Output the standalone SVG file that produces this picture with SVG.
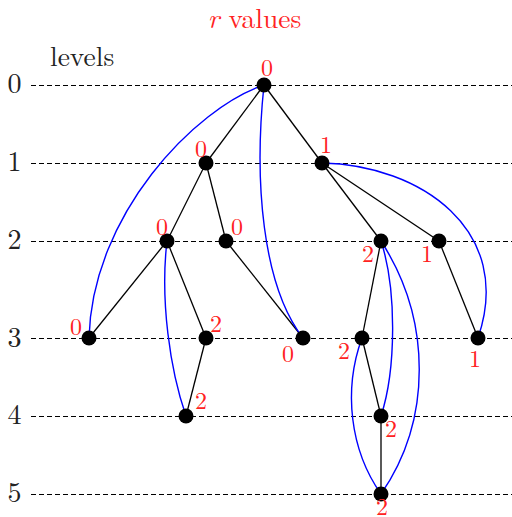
<svg xmlns="http://www.w3.org/2000/svg" width="512" height="517" viewBox="0 0 512 517">
<style>
.lvl{stroke:#000;stroke-width:1;stroke-dasharray:4.5,3.5;shape-rendering:crispEdges}
.tx{font-family:"Latin Modern Roman","Liberation Serif",serif;}
.lt{font-size:28px;fill:#222;text-anchor:middle}
.r{font-size:24px;fill:#f22;text-anchor:middle}
.e{stroke:#000;stroke-width:1.3;fill:none}
.b{stroke:#00f;stroke-width:1.4;fill:none}
.n{fill:#000}
</style>
<rect width="512" height="517" fill="#fff"/>
<g id="levels">
<line class="lvl" x1="31" y1="85.5" x2="512" y2="85.5"/>
<line class="lvl" x1="31" y1="163.5" x2="512" y2="163.5"/>
<line class="lvl" x1="31" y1="241.5" x2="512" y2="241.5"/>
<line class="lvl" x1="31" y1="338.5" x2="512" y2="338.5"/>
<line class="lvl" x1="31" y1="416.5" x2="512" y2="416.5"/>
<line class="lvl" x1="31" y1="494.5" x2="512" y2="494.5"/>
<text class="tx lt" x="14.5" y="93">0</text>
<text class="tx lt" x="14.5" y="171">1</text>
<text class="tx lt" x="14.5" y="249">2</text>
<text class="tx lt" x="14.5" y="347">3</text>
<text class="tx lt" x="14.5" y="424">4</text>
<text class="tx lt" x="14.5" y="502">5</text>
<text class="tx" x="50" y="66" font-size="27.5" fill="#222">levels</text>
<text class="tx" x="254.5" y="28" font-size="27.5" fill="#f22" text-anchor="middle"><tspan font-style="italic">r</tspan> values</text>
</g>
<g id="connectors">
<line class="e" x1="264" y1="85" x2="206" y2="163"/>
<line class="e" x1="264" y1="85" x2="322" y2="163"/>
<line class="e" x1="206" y1="163" x2="167" y2="241"/>
<line class="e" x1="206" y1="163" x2="226" y2="241"/>
<line class="e" x1="167" y1="241" x2="89" y2="338"/>
<line class="e" x1="167" y1="241" x2="206" y2="338"/>
<line class="e" x1="226" y1="241" x2="303" y2="338"/>
<line class="e" x1="322" y1="163" x2="381" y2="241"/>
<line class="e" x1="322" y1="163" x2="439" y2="241"/>
<line class="e" x1="381" y1="241" x2="362" y2="338"/>
<line class="e" x1="439" y1="241" x2="478" y2="338"/>
<line class="e" x1="206" y1="338" x2="186" y2="416"/>
<line class="e" x1="362" y1="338" x2="381" y2="416"/>
<line class="e" x1="381" y1="416" x2="381" y2="494"/>
<path class="b" d="M264,85 C195,108 92,215 89,338"/>
<path class="b" d="M264,85 C254,180 262,285 303,338"/>
<path class="b" d="M167,241 C160,300 170,370 186,416"/>
<path class="b" d="M322,163 C420,165 515,230 478,338"/>
<path class="b" d="M381,241 C397,290 396,370 381,416"/>
<path class="b" d="M381,241 C432,320 432,420 381,494"/>
<path class="b" d="M362,338 C343,390 350,450 381,494"/>
</g>
<g id="nA"><circle class="n" cx="264" cy="85" r="7.5"/><text class="tx r" x="267" y="76">0</text></g>
<g id="nB"><circle class="n" cx="206" cy="163" r="7.5"/><text class="tx r" x="201" y="157">0</text></g>
<g id="nC"><circle class="n" cx="322" cy="163" r="7.5"/><text class="tx r" x="326" y="153">1</text></g>
<g id="nD"><circle class="n" cx="167" cy="241" r="7.5"/><text class="tx r" x="162" y="235">0</text></g>
<g id="nE"><circle class="n" cx="226" cy="241" r="7.5"/><text class="tx r" x="237" y="235">0</text></g>
<g id="nF"><circle class="n" cx="381" cy="241" r="7.5"/><text class="tx r" x="368" y="262">2</text></g>
<g id="nG"><circle class="n" cx="439" cy="241" r="7.5"/><text class="tx r" x="427" y="262">1</text></g>
<g id="nH"><circle class="n" cx="89" cy="338" r="7.5"/><text class="tx r" x="76" y="335">0</text></g>
<g id="nI"><circle class="n" cx="206" cy="338" r="7.5"/><text class="tx r" x="216" y="332">2</text></g>
<g id="nJ"><circle class="n" cx="303" cy="338" r="7.5"/><text class="tx r" x="288" y="362">0</text></g>
<g id="nK"><circle class="n" cx="362" cy="338" r="7.5"/><text class="tx r" x="344" y="359">2</text></g>
<g id="nL"><circle class="n" cx="478" cy="338" r="7.5"/><text class="tx r" x="475" y="367">1</text></g>
<g id="nM"><circle class="n" cx="186" cy="416" r="7.5"/><text class="tx r" x="201" y="409">2</text></g>
<g id="nN"><circle class="n" cx="381" cy="416" r="7.5"/><text class="tx r" x="391" y="437">2</text></g>
<g id="nO"><circle class="n" cx="381" cy="494" r="7.5"/><text class="tx r" x="382" y="515">2</text></g>
</svg>
